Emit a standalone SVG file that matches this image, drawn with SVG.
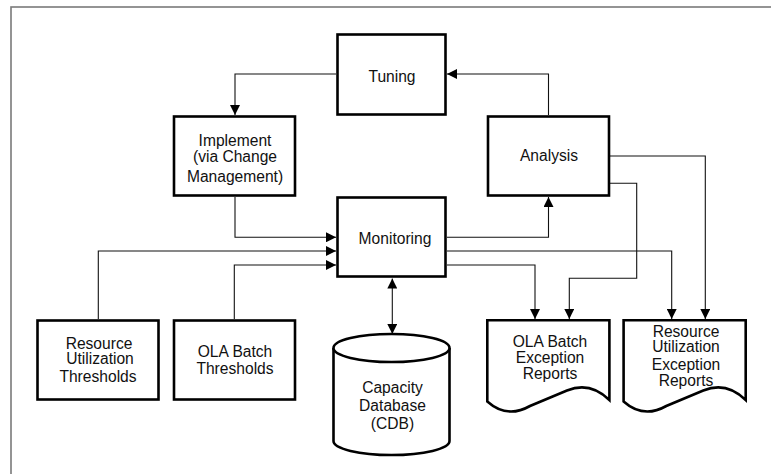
<svg xmlns="http://www.w3.org/2000/svg" width="771" height="474" viewBox="0 0 771 474">
  <style>
    .box { fill: #fff; stroke: #000; stroke-width: 2.6; }
    .lbl { font-family: "Liberation Sans", Arial, sans-serif; font-size: 15.6px; fill: #111; text-anchor: middle; }
    .wire { fill: none; stroke: #111; stroke-width: 1.1; }
    .frame { fill: none; stroke: #7a7a7a; stroke-width: 1.6; }
  </style>
  <defs>
    <marker id="arrow" markerUnits="userSpaceOnUse" markerWidth="10" markerHeight="10" refX="10" refY="5" orient="auto">
      <path d="M0,0 L10,5 L0,10 z" fill="#000"/>
    </marker>
    <marker id="arrowStart" markerUnits="userSpaceOnUse" markerWidth="10" markerHeight="10" refX="0" refY="5" orient="auto">
      <path d="M10,0 L0,5 L10,10 z" fill="#000"/>
    </marker>
  </defs>

  <rect width="771" height="474" fill="#fff"/>
  <!-- page frame -->
  <rect class="frame" x="11" y="7" width="800" height="520"/>

  <!-- connectors -->
  <g id="connectors">
    <path class="wire" d="M336,74 H235 V115" marker-end="url(#arrow)"/>
    <path class="wire" d="M548.5,115 V74 H447" marker-end="url(#arrow)"/>
    <path class="wire" d="M235,197 V237.3 H336" marker-end="url(#arrow)"/>
    <path class="wire" d="M98.3,319 V251 H336" marker-end="url(#arrow)"/>
    <path class="wire" d="M234.3,319 V265 H336" marker-end="url(#arrow)"/>
    <path class="wire" d="M447,237.3 H548.5 V197" marker-end="url(#arrow)"/>
    <path class="wire" d="M447,251 H671.7 V319" marker-end="url(#arrow)"/>
    <path class="wire" d="M447,265 H535 V319" marker-end="url(#arrow)"/>
    <path class="wire" d="M610,183.3 H636.7 V278.3 H569.3 V319" marker-end="url(#arrow)"/>
    <path class="wire" d="M610,156 H705.3 V319" marker-end="url(#arrow)"/>
    <path class="wire" d="M392.3,278.5 V334" marker-start="url(#arrowStart)" marker-end="url(#arrow)"/>
  </g>

  <g id="tuning">
    <rect class="box" x="337.5" y="34.5" width="108" height="80"/>
    <text class="lbl" x="392" y="82">Tuning</text>
  </g>

  <g id="implement">
    <rect class="box" x="174" y="116.5" width="121" height="79"/>
    <text class="lbl" x="235" y="146">Implement</text>
    <text class="lbl" x="235" y="162.3">(via Change</text>
    <text class="lbl" x="235" y="182.3">Management)</text>
  </g>

  <g id="analysis">
    <rect class="box" x="488" y="116.5" width="121" height="79"/>
    <text class="lbl" x="549" y="161">Analysis</text>
  </g>

  <g id="monitoring">
    <rect class="box" x="337.5" y="197.5" width="108" height="79"/>
    <text class="lbl" x="395" y="243.5">Monitoring</text>
  </g>

  <g id="resource-thresholds">
    <rect class="box" x="37.5" y="320.5" width="121" height="79"/>
    <text class="lbl" x="99" y="349">Resource</text>
    <text class="lbl" x="100" y="364.3">Utilization</text>
    <text class="lbl" x="98" y="381.7">Thresholds</text>
  </g>

  <g id="ola-thresholds">
    <rect class="box" x="174" y="320.5" width="121" height="79"/>
    <text class="lbl" x="235" y="357.3">OLA Batch</text>
    <text class="lbl" x="235" y="374.3">Thresholds</text>
  </g>

  <g id="capacity-db">
    <path class="box" d="M333.5,348 V441 A58,14 0 0 0 449.5,441 V348"/>
    <ellipse class="box" cx="391.5" cy="348" rx="58" ry="14"/>
    <text class="lbl" x="392.5" y="393.3">Capacity</text>
    <text class="lbl" x="392.5" y="410.7">Database</text>
    <text class="lbl" x="392.5" y="429.3">(CDB)</text>
  </g>

  <g id="ola-reports">
    <path class="box" d="M487.3,401.5 V320.3 H609.4 V400 Q590,381 567,390.5 Q548,398.5 530,406 Q507,419 487.3,401.5 Z"/>
    <text class="lbl" x="550" y="346.7">OLA Batch</text>
    <text class="lbl" x="550" y="362.7">Exception</text>
    <text class="lbl" x="550" y="379.3">Reports</text>
  </g>

  <g id="resource-reports">
    <path class="box" d="M623.6,401.5 V320.3 H745.7 V400 Q726.3,381 703.3,390.5 Q684.3,398.5 666.3,406 Q643.3,419 623.6,401.5 Z"/>
    <text class="lbl" x="686" y="336.7">Resource</text>
    <text class="lbl" x="686" y="352.3">Utilization</text>
    <text class="lbl" x="686" y="370.3">Exception</text>
    <text class="lbl" x="686" y="386">Reports</text>
  </g>
</svg>
